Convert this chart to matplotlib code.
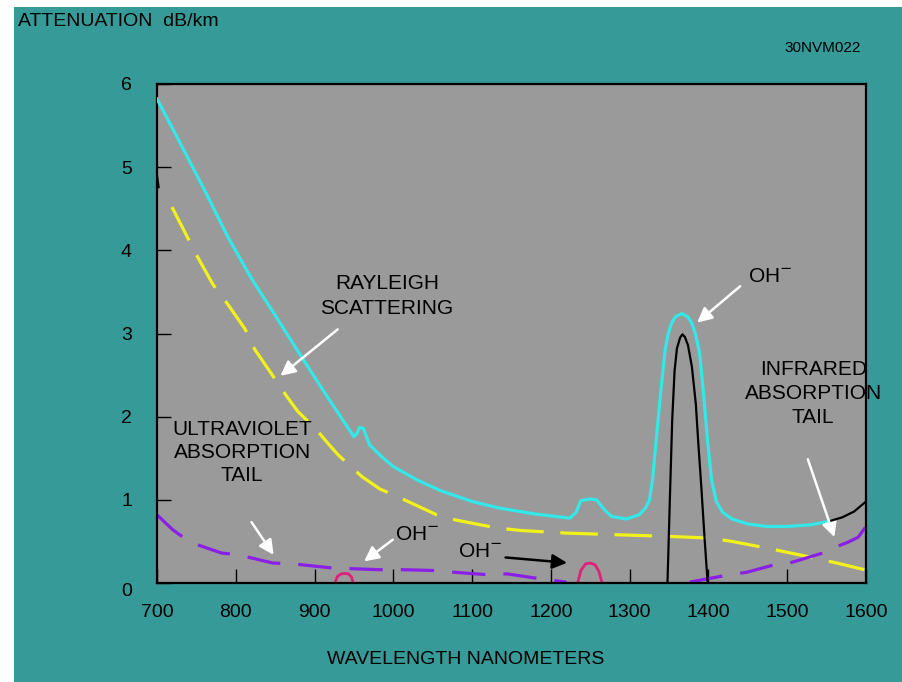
import matplotlib
matplotlib.use("Agg")
import matplotlib.pyplot as plt
from matplotlib.patches import Rectangle
from matplotlib.transforms import ScaledTranslation

plt.rcParams['font.family'] = ['Liberation Sans', 'DejaVu Sans']
plt.rcParams['lines.scale_dashes'] = False

# total attenuation (cyan)
total_nm = [700, 730, 760, 790, 820, 850, 880, 910, 940, 950, 954, 957, 962, 965, 970,
            985, 1000, 1030, 1060, 1100, 1135, 1180, 1224, 1232, 1238, 1250, 1258, 1268,
            1277, 1296, 1312, 1320, 1325, 1329, 1334, 1340, 1345, 1349, 1353, 1358, 1366,
            1374, 1379, 1384, 1389, 1394, 1399, 1404, 1410, 1418, 1430, 1450, 1474, 1500,
            1530, 1558]
total_db = [5.82, 5.28, 4.73, 4.16, 3.66, 3.22, 2.77, 2.33, 1.90, 1.76, 1.80, 1.87, 1.86,
            1.78, 1.66, 1.52, 1.40, 1.24, 1.11, 0.98, 0.90, 0.83, 0.78, 0.85, 0.99, 1.01,
            1.00, 0.88, 0.80, 0.77, 0.82, 0.90, 0.99, 1.24, 1.75, 2.35, 2.80, 3.00, 3.12,
            3.20, 3.24, 3.20, 3.12, 2.98, 2.75, 2.25, 1.70, 1.24, 0.98, 0.85, 0.77, 0.71,
            0.68, 0.68, 0.70, 0.75]

# OH- peak and IR side of total (black)
oh_nm = [1348, 1351, 1354, 1357, 1360, 1364, 1367, 1370, 1374, 1379, 1384, 1387, 1391,
         1395, 1399]
oh_db = [0.0, 1.0, 1.96, 2.55, 2.82, 2.95, 2.99, 2.96, 2.86, 2.60, 2.15, 1.70, 1.15, 0.55, 0.0]
edge_nm = [700, 702]
edge_db = [4.90, 4.76]
ir_total_nm = [1556, 1570, 1585, 1600]
ir_total_db = [0.75, 0.79, 0.86, 0.98]

# Rayleigh scattering (yellow dashed)
ray_nm = [719, 751, 771, 790, 812, 824, 845, 865, 879, 900, 916, 930, 960, 983, 1005,
          1030, 1055, 1078, 1105, 1133, 1164, 1220, 1284, 1351, 1402, 1430, 1452, 1474,
          1520, 1563, 1598]
ray_db = [4.52, 3.93, 3.59, 3.35, 3.05, 2.81, 2.52, 2.24, 2.06, 1.87, 1.69, 1.54, 1.28,
          1.13, 1.04, 0.93, 0.82, 0.76, 0.71, 0.66, 0.63, 0.60, 0.58, 0.56, 0.54, 0.50,
          0.46, 0.42, 0.33, 0.24, 0.16]

# UV and IR absorption tails (violet dashed)
uv_nm = [700, 720, 742, 782, 803, 847, 873, 923, 983, 1012, 1053, 1076, 1119, 1144, 1180, 1220]
uv_db = [0.82, 0.64, 0.49, 0.36, 0.34, 0.24, 0.23, 0.18, 0.16, 0.16, 0.15, 0.13, 0.10,
         0.11, 0.06, 0.01]
ir_nm = [1376, 1427, 1449, 1484, 1503, 1545, 1558, 1577, 1590, 1600]
ir_db = [0.01, 0.10, 0.13, 0.22, 0.24, 0.36, 0.42, 0.49, 0.55, 0.68]

# small OH- bumps (magenta)
bump1_nm = [926, 929, 934, 938, 943, 947, 949]
bump1_db = [0.0, 0.08, 0.11, 0.115, 0.11, 0.07, 0.0]
bump2_nm = [1234, 1238, 1244, 1250, 1256, 1261, 1265]
bump2_db = [0.0, 0.15, 0.23, 0.24, 0.22, 0.14, 0.0]

x_ticks = [700, 800, 900, 1000, 1100, 1200, 1300, 1400, 1500, 1600]
y_ticks = [0, 1, 2, 3, 4, 5, 6]

teal = '#369a98'
fig = plt.figure(figsize=(9.03, 6.82), dpi=100, facecolor='white')
fig.patches.append(Rectangle((14 / 903, 0), 1, 1 - 7 / 682, transform=fig.transFigure,
                             facecolor=teal, edgecolor='none', zorder=-10))
ax = fig.add_axes([157 / 903, 99 / 682, 709 / 903, 499 / 682])
ax.set_facecolor('#9a9a9a')

ax.plot(total_nm, total_db, color='#33e8e8', lw=2.3, zorder=3)
ax.plot(oh_nm, oh_db, color='black', lw=1.6, zorder=4)
ax.plot(edge_nm, edge_db, color='black', lw=1.6, zorder=4)
ax.plot(ir_total_nm, ir_total_db, color='black', lw=1.6, zorder=4)
ax.plot(ray_nm, ray_db, color='#f2f21a', lw=2.3, dashes=(27, 12), zorder=2)
ax.plot(uv_nm, uv_db, color='#8a1fe6', lw=2.3, dashes=(24, 13), zorder=2)
ax.plot(ir_nm, ir_db, color='#8a1fe6', lw=2.3, dashes=(24, 13), zorder=2)
ax.plot(bump1_nm, bump1_db, color='#e0207a', lw=2, zorder=2)
ax.plot(bump2_nm, bump2_db, color='#e0207a', lw=2, zorder=2)

ax.set_xlim(700, 1600)
ax.set_ylim(0, 6)
ax.set_xticks(x_ticks)
ax.set_yticks(y_ticks)
ax.tick_params(direction='in', length=10, width=1, colors='black', labelsize=14)
ax.tick_params(axis='x', pad=15)
ax.tick_params(axis='y', pad=18)
for s in ax.spines.values():
    s.set_linewidth(1.6)
    s.set_color('black')
zero = ax.yaxis.get_major_ticks()[0].label1
zero.set_transform(zero.get_transform() + ScaledTranslation(0, -7 / 100, fig.dpi_scale_trans))

white_arrow = dict(arrowstyle='-|>', color='white', lw=1.8, mutation_scale=22)
fs = 15

ax.text(992, 3.45, 'RAYLEIGH\nSCATTERING', fontsize=fs, ha='center', va='center',
        linespacing=1.45)
ax.annotate('', xy=(854, 2.47), xytext=(932, 3.07), arrowprops=white_arrow)

ax.text(808, 1.57, 'ULTRAVIOLET\nABSORPTION\nTAIL', fontsize=fs, ha='center',
        va='center', linespacing=1.25)
ax.annotate('', xy=(850, 0.31), xytext=(818, 0.76), arrowprops=white_arrow)

ax.text(1002, 0.58, 'OH$^{-}$', fontsize=fs, ha='left', va='center')
ax.annotate('', xy=(960, 0.24), xytext=(1002, 0.54), arrowprops=white_arrow)

ax.text(1082, 0.38, 'OH$^{-}$', fontsize=fs, ha='left', va='center')
ax.annotate('', xy=(1224, 0.24), xytext=(1139, 0.31),
            arrowprops=dict(arrowstyle='-|>', color='black', lw=1.8, mutation_scale=22))

ax.text(1450, 3.68, 'OH$^{-}$', fontsize=fs, ha='left', va='center')
ax.annotate('', xy=(1383, 3.11), xytext=(1443, 3.59), arrowprops=white_arrow)

ax.text(1533, 2.28, 'INFRARED\nABSORPTION\nTAIL', fontsize=fs, ha='center',
        va='center', linespacing=1.35)
ax.annotate('', xy=(1561, 0.52), xytext=(1525, 1.52), arrowprops=white_arrow)

fig.text(18 / 903, 1 - 22 / 682, 'ATTENUATION  dB/km', fontsize=14, ha='left', va='center')
fig.text(861 / 903, 1 - 48 / 682, '30NVM022', fontsize=11, ha='right', va='center')
fig.text(466 / 903, 1 - 660 / 682, 'WAVELENGTH NANOMETERS', fontsize=14, ha='center', va='center')

fig.savefig('out.png', dpi=100, facecolor=fig.get_facecolor())
